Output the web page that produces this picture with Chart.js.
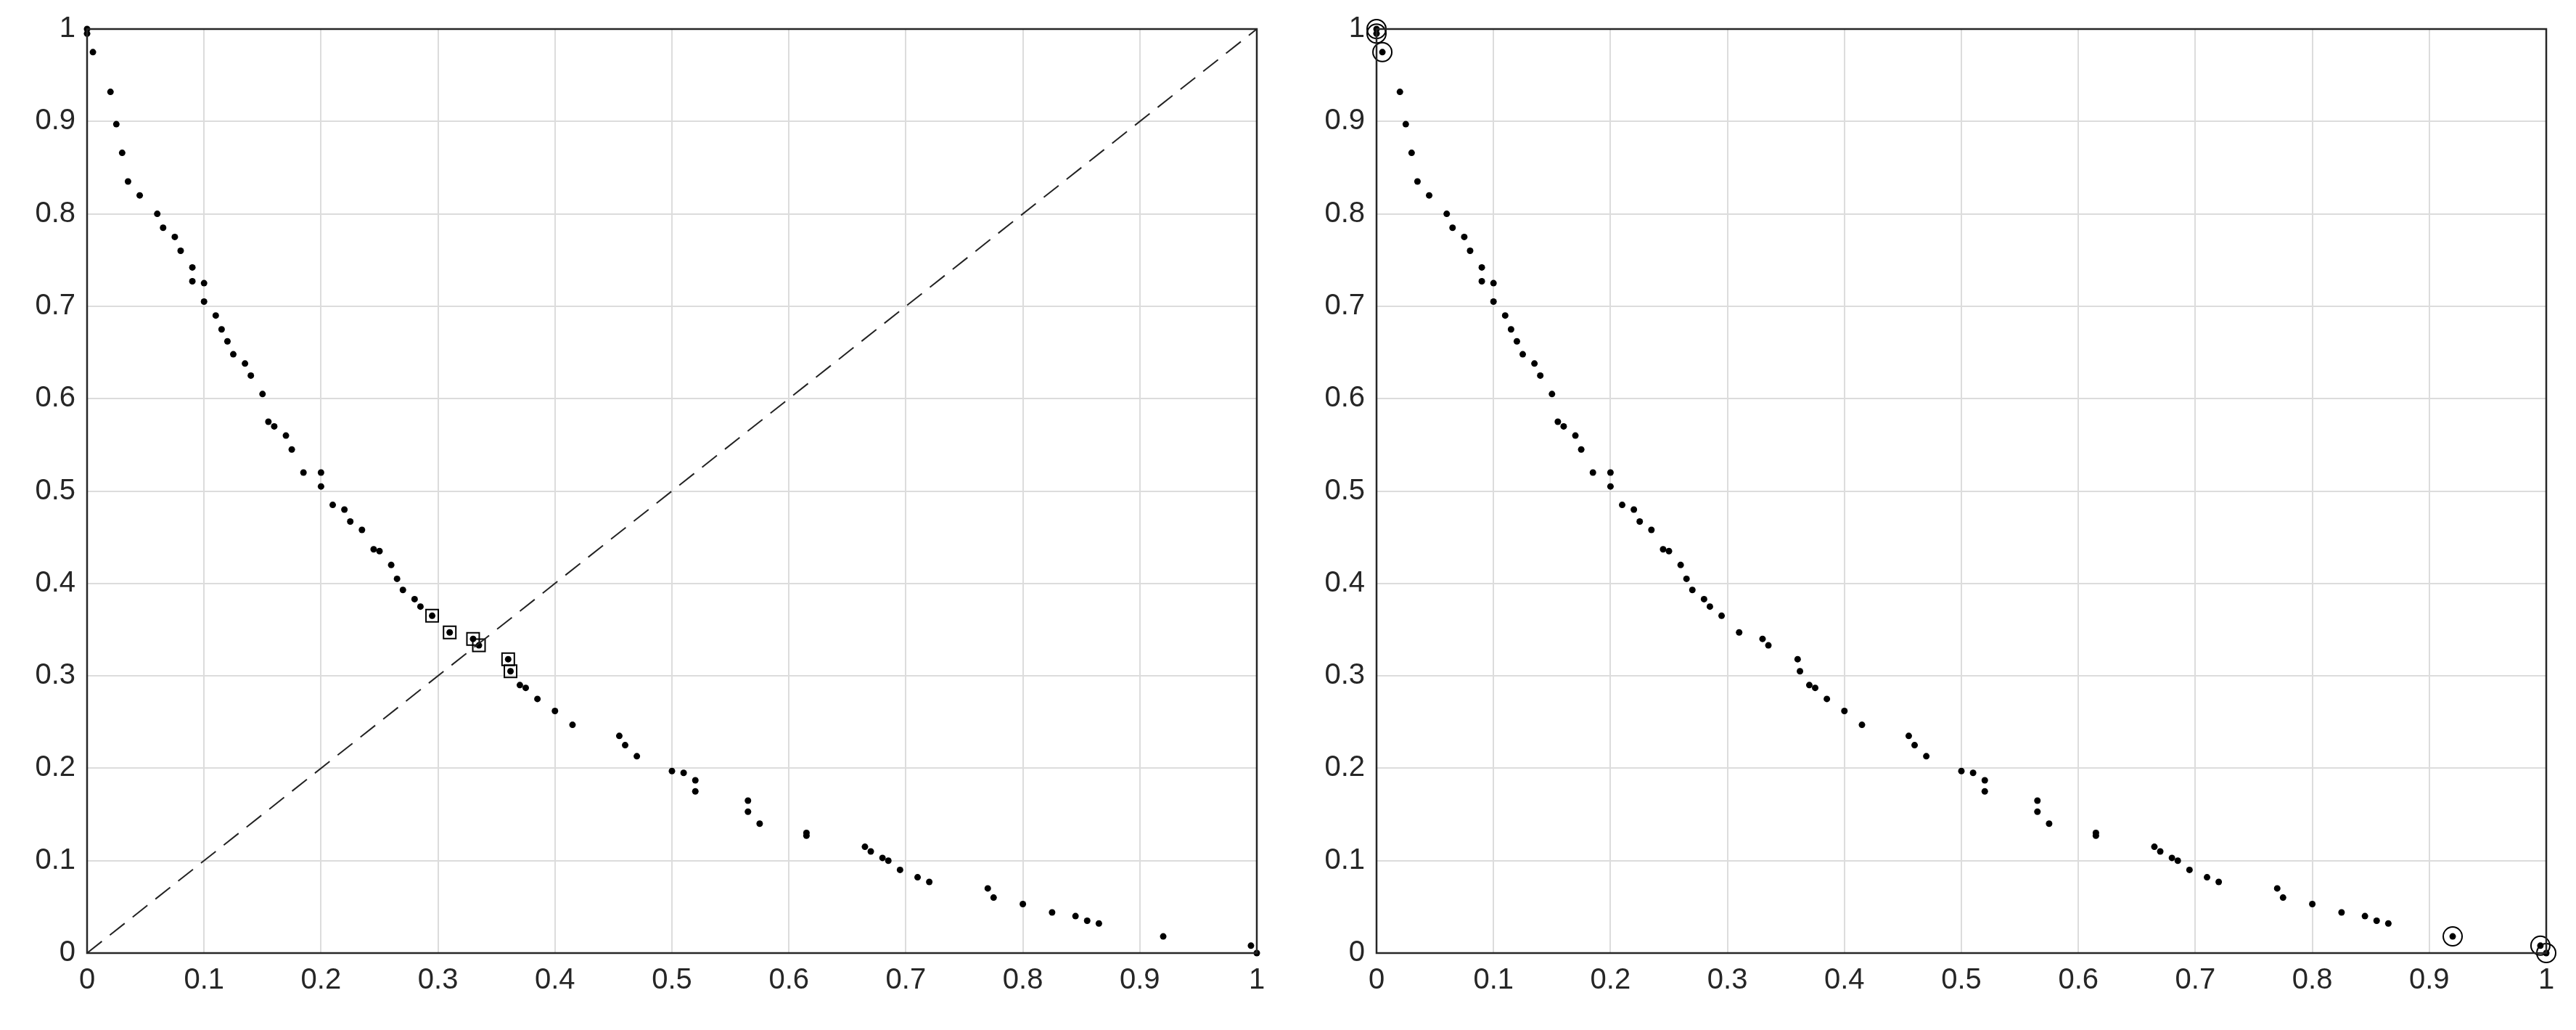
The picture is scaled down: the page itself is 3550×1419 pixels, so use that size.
<!DOCTYPE html><html><head><script src="https://cdn.jsdelivr.net/npm/chart.js@4"></script>
<style>body{margin:0;background:#fff}.c{position:absolute;top:0;width:1775px;height:1419px}</style></head><body>
<div class="c" style="left:0"><canvas id="a"></canvas></div>
<div class="c" style="left:1775px"><canvas id="b"></canvas></div>
<script>
const xVals=[0,0,0.005,0.02,0.025,0.03,0.035,0.045,0.06,0.065,0.075,0.08,0.09,0.09,0.1,0.1,0.11,0.115,0.12,0.125,0.135,0.14,0.15,0.155,0.16,0.17,0.175,0.185,0.2,0.2,0.21,0.22,0.225,0.235,0.245,0.25,0.26,0.265,0.27,0.28,0.285,0.295,0.31,0.33,0.335,0.36,0.362,0.37,0.375,0.385,0.4,0.415,0.455,0.46,0.47,0.5,0.51,0.52,0.52,0.565,0.565,0.575,0.615,0.615,0.665,0.67,0.68,0.685,0.695,0.71,0.72,0.77,0.775,0.8,0.825,0.845,0.855,0.865,0.92,0.995,1];
const yVals=[1,0.995,0.975,0.932,0.897,0.866,0.835,0.82,0.8,0.785,0.775,0.76,0.742,0.727,0.725,0.705,0.69,0.675,0.662,0.648,0.638,0.625,0.605,0.575,0.57,0.56,0.545,0.52,0.52,0.505,0.485,0.48,0.467,0.458,0.437,0.435,0.42,0.405,0.393,0.383,0.375,0.365,0.347,0.34,0.333,0.318,0.305,0.29,0.287,0.275,0.262,0.247,0.235,0.225,0.213,0.197,0.195,0.187,0.175,0.165,0.153,0.14,0.13,0.127,0.115,0.11,0.103,0.1,0.09,0.082,0.077,0.07,0.06,0.053,0.044,0.04,0.035,0.032,0.018,0.008,0];
const squareIdx=[41,42,43,44,45,46];
const circleIdx=[0,1,2,78,79,80];
const tickLabels=['0','0.1','0.2','0.3','0.4','0.5','0.6','0.7','0.8','0.9','1'];
const pts=xVals.map((x,i)=>({x,y:yVals[i]}));
const box={id:'box',afterDraw(c){const a=c.chartArea,x=c.ctx;x.save();x.strokeStyle='#262626';x.lineWidth=2.5;x.strokeRect(a.left,a.top,a.right-a.left,a.bottom-a.top);x.restore();}};
function scales(yw){const tk={color:'#262626',font:{family:'Liberation Sans, Arial',size:40},callback:(v)=>tickLabels[Math.round(v*10)]??''};
return {x:{type:'linear',min:0,max:1,afterFit:s=>{s.height=106},ticks:{...tk,stepSize:0.1,autoSkip:false,maxRotation:0,padding:14},grid:{color:'#dcdcdc',lineWidth:2,drawTicks:false},border:{display:false}},
y:{type:'linear',min:0,max:1,afterFit:s=>{s.width=yw},ticks:{...tk,stepSize:0.1,padding:16},grid:{color:'#dcdcdc',lineWidth:2,drawTicks:false},border:{display:false}}};}
const dots={data:pts,pointRadius:4.5,pointBackgroundColor:'#000',pointBorderWidth:0,showLine:false,clip:false};
new Chart(document.getElementById('a'),{type:'scatter',data:{datasets:[
{data:[{x:0,y:0},{x:1,y:1}],showLine:true,borderColor:'#222',borderWidth:2,borderDash:[26,14],pointRadius:0},
dots,
{data:squareIdx.map(i=>pts[i]),pointStyle:'rect',pointRadius:12,pointBorderColor:'#000',pointBorderWidth:2,pointBackgroundColor:'rgba(0,0,0,0)',showLine:false,clip:false}
]},options:{responsive:true,maintainAspectRatio:false,animation:false,events:[],layout:{padding:{top:38,right:43,left:0,bottom:0}},plugins:{legend:{display:false},tooltip:{enabled:false}},scales:scales(120)},plugins:[box]});
new Chart(document.getElementById('b'),{type:'scatter',data:{datasets:[
dots,
{data:circleIdx.map(i=>pts[i]),pointStyle:'circle',pointRadius:13,pointBorderColor:'#000',pointBorderWidth:2,pointBackgroundColor:'rgba(0,0,0,0)',showLine:false,clip:false}
]},options:{responsive:true,maintainAspectRatio:false,animation:false,events:[],layout:{padding:{top:38,right:41,left:0,bottom:0}},plugins:{legend:{display:false},tooltip:{enabled:false}},scales:scales(122)},plugins:[box]});
</script></body></html>
